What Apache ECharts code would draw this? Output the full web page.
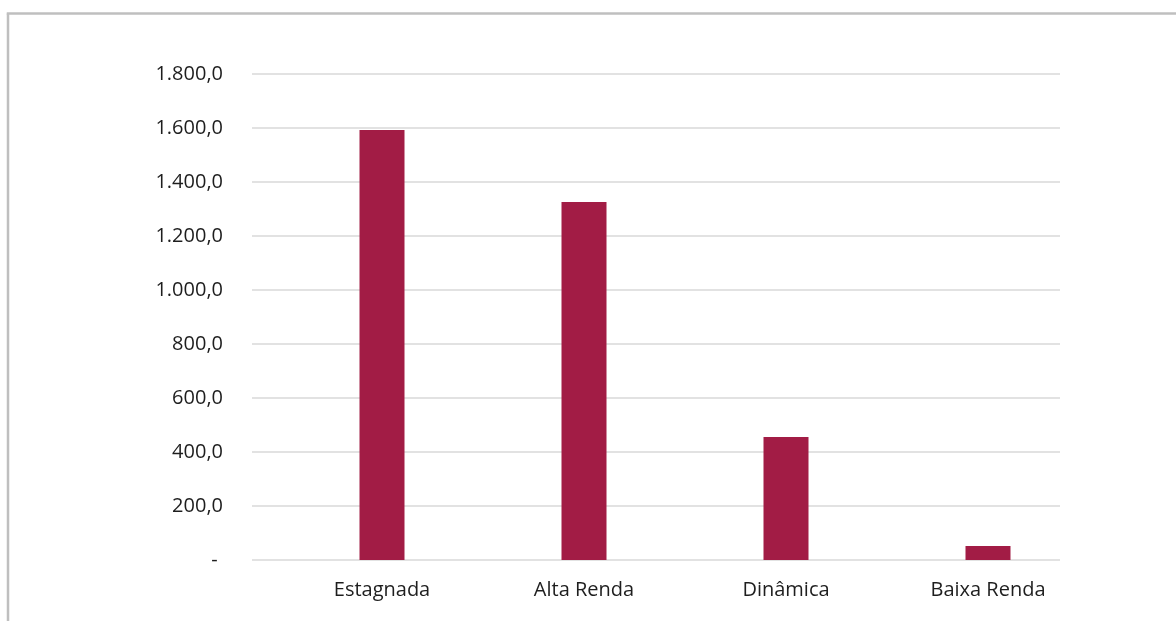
<!DOCTYPE html>
<html>
<head>
<meta charset="utf-8">
<script src="https://cdn.jsdelivr.net/npm/echarts@6/dist/echarts.min.js"></script>
<style>
  html, body { margin: 0; padding: 0; background: #ffffff; }
  #chart { width: 1176px; height: 621px; }
</style>
</head>
<body>
<div id="chart"></div>
<script>
// Categories and values (same units as the axis)
const categories = ['Estagnada', 'Alta Renda', 'Dinâmica', 'Baixa Renda'];
const values = [1593, 1326, 456, 52];
const yTicks = [0, 200, 400, 600, 800, 1000, 1200, 1400, 1600, 1800];

const FONT = 'Open Sans';
const textColor = '#1e1e1e';
const barColor = '#a21c45';
const gridColor = '#d9d9d9';

// Brazilian number format with one decimal: 1.800,0 ; zero shown as a dash
function fmt(v) {
  if (v === 0) return '- ';
  const parts = v.toFixed(1).split('.');
  const intPart = parts[0].replace(/\B(?=(\d{3})+(?!\d))/g, '.');
  return intPart + ',' + parts[1];
}

const chart = echarts.init(document.getElementById('chart'), null, { renderer: 'canvas' });

const plotTop = 74, plotBottom = 621 - 560;

chart.setOption({
  animation: false,
  backgroundColor: '#ffffff',
  textStyle: { fontFamily: FONT },
  grid: [
    // grid holding the value axis and its gridlines
    { left: 252, right: 116, top: plotTop, bottom: plotBottom, containLabel: false },
    // grid holding the bars and category labels, shifted right
    { left: 281, right: 87, top: plotTop, bottom: plotBottom, containLabel: false }
  ],
  xAxis: [
    {
      gridIndex: 0, type: 'category', data: categories,
      axisLine: { show: false }, axisTick: { show: false }, axisLabel: { show: false }
    },
    {
      gridIndex: 1, type: 'category', data: categories,
      axisLine: { show: false }, axisTick: { show: false },
      axisLabel: { color: textColor, fontSize: 20, fontFamily: FONT, margin: 20 }
    }
  ],
  yAxis: [
    {
      gridIndex: 0, type: 'value', min: yTicks[0], max: yTicks[yTicks.length - 1], interval: 200,
      axisLine: { show: false }, axisTick: { show: false },
      splitLine: { show: true, lineStyle: { color: gridColor, width: 1.5 } },
      axisLabel: { color: textColor, fontSize: 20, fontFamily: FONT, margin: 29, formatter: fmt }
    },
    {
      gridIndex: 1, type: 'value', min: yTicks[0], max: yTicks[yTicks.length - 1], interval: 200,
      show: false, splitLine: { show: false }
    }
  ],
  series: [
    {
      type: 'bar', xAxisIndex: 1, yAxisIndex: 1,
      data: values, barWidth: 45,
      itemStyle: { color: barColor }
    }
  ],
  graphic: [
    // outer frame (left and top edges)
    { type: 'line', shape: { x1: 8, y1: 13.5, x2: 8, y2: 621 }, style: { stroke: '#bfbfbf', lineWidth: 2.5 } },
    { type: 'line', shape: { x1: 6.75, y1: 13.5, x2: 1176, y2: 13.5 }, style: { stroke: '#bfbfbf', lineWidth: 2.5 } }
  ]
});
</script>
</body>
</html>
